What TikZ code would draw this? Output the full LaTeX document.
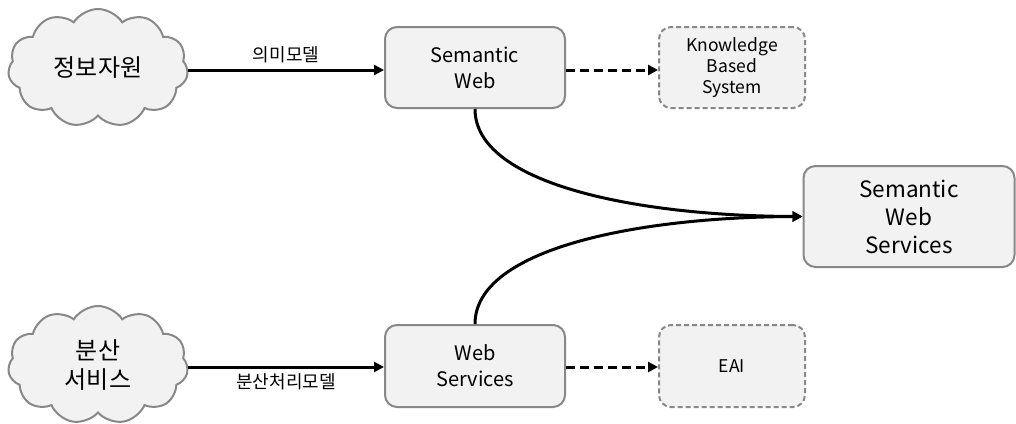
\documentclass[tikz,border=0pt]{standalone}
\usepackage{fontspec}
\setmainfont{Noto Sans CJK KR}
\usetikzlibrary{shapes.symbols,arrows.meta}
\definecolor{boxfill}{HTML}{F2F2F2}
\definecolor{boxline}{HTML}{888888}
\begin{document}
\begin{tikzpicture}[x=1pt,y=-1pt,
  box/.style={draw=boxline,line width=2pt,fill=boxfill,rounded corners=12pt,
    align=center,inner sep=0pt},
  dbox/.style={box,dashed,dash pattern=on 5pt off 3pt},
  cloudy/.style={cloud,cloud puffs=11,cloud puff arc=115,aspect=1.55,draw=boxline,
    line width=2pt,fill=boxfill,align=center,inner sep=0pt,
    minimum width=180pt,minimum height=118pt},
  link/.style={line width=3pt,-{Triangle[length=10pt,width=10pt]}},
  dlink/.style={link,dash pattern=on 9pt off 5pt},
  lbl/.style={font=\fontsize{18}{22}\selectfont}]
\useasboundingbox (0,0) rectangle (1016,423);
% clouds
\node[cloudy,font=\fontsize{24}{28}\selectfont] (info) at (98,68) {정보자원};
\node[cloudy,font=\fontsize{24}{29}\selectfont] (dist) at (98,365) {분산\\서비스};
% boxes
\node[box,minimum width=180pt,minimum height=81pt,font=\fontsize{20}{26}\selectfont] (sw) at (475,67.5) {Semantic\\Web};
\node[box,minimum width=180pt,minimum height=82pt,font=\fontsize{20}{26}\selectfont] (ws) at (475,366) {Web\\Services};
\node[dbox,minimum width=146pt,minimum height=81pt,font=\fontsize{17.5}{21}\selectfont] (kbs) at (732,67.5) {Knowledge\\Based\\System};
\node[dbox,minimum width=146pt,minimum height=82pt,font=\fontsize{17.5}{21}\selectfont] (eai) at (732,366) {EAI};
\node[box,minimum width=211pt,minimum height=101pt,font=\fontsize{22.5}{28}\selectfont] (sws) at (909,216.5) {Semantic\\Web\\Services};
% connectors
\draw[link] (info.east |- 0,70) -- node[lbl,above=2pt] {의미모델} (sw.west |- 0,70);
\draw[link] (dist.east |- 0,367) -- node[lbl,below=2pt] {분산처리모델} (ws.west |- 0,367);
\draw[dlink] (sw.east |- 0,70) -- (kbs.west |- 0,70);
\draw[dlink] (ws.east |- 0,367) -- (eai.west |- 0,367);
\draw[link] (sw.south) .. controls (475,185) and (640,216) .. (sws.west);
\draw[link] (ws.north) .. controls (475,248) and (640,217) .. (sws.west);
\end{tikzpicture}
\end{document}
